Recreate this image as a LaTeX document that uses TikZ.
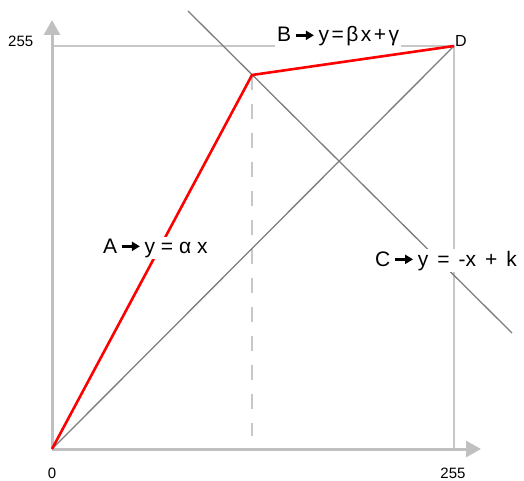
\documentclass[tikz,border=0pt]{standalone}
\usepackage{fontspec}
\setmainfont{Liberation Sans}
\usetikzlibrary{arrows.meta, positioning}
\definecolor{axisgray}{RGB}{192,192,192}
\definecolor{guidegray}{RGB}{200,200,200}
\definecolor{linegray}{RGB}{125,125,125}
\definecolor{mapred}{RGB}{255,0,0}
\newcommand{\maparrow}{\,\tikz[baseline=-0.6ex]\draw[black, line width=2.4pt, -{Triangle[length=8pt, width=9pt]}] (0pt,0pt) -- (18pt,0pt);\,}

\begin{document}
\begin{tikzpicture}[x=1pt, y=-1pt, font=\fontsize{21}{24}\selectfont,
    axis/.style={axisgray, line width=3pt, -{Triangle[length=15pt, width=16pt]}},
    guide/.style={guidegray, line width=1.2pt},
    mapline/.style={linegray, line width=1.3pt},
    maplabel/.style={fill=white, inner sep=2pt, anchor=base west},
    ticklabel/.style={font=\fontsize{15}{18}\selectfont, inner sep=0pt, anchor=base}]
  \useasboundingbox (0,0) rectangle (524,481);

  % Points
  \coordinate (O) at (52,449);
  \coordinate (D) at (454,46);
  \coordinate (P) at (252,75);
  \coordinate (Xend) at (481,449);
  \coordinate (Yend) at (52,20);
  \coordinate (Ytop) at (52,46);
  \coordinate (Xtop) at (454,449);
  \coordinate (Pfoot) at (252,436);
  \coordinate (Cstart) at (188,11);
  \coordinate (Cend) at (512,333);

  % Guides and axes
  \draw[guide] (Ytop) -- (D) -- (Xtop);
  \draw[guide, dash pattern=on 15pt off 14pt] (P) -- (Pfoot);
  \draw[axis] (O) -- (Xend);
  \draw[axis] (O) -- (Yend);

  % Lines
  \draw[mapline] (O) -- (D);
  \draw[mapline] (Cstart) -- (Cend);
  \draw[mapred, line width=2.6pt, line join=round] (O) -- (P) -- (D);

  % Labels
  \node[maplabel] (labB) at (275,42) {\spaceskip=2.5pt B\maparrow y = β x + γ};
  \node[maplabel] (labA) at (101,253) {A\maparrow y = α x};
  \node[maplabel] (labC) at (373,266) {\spaceskip=9pt C\maparrow y = -x + k};

  \node[ticklabel, anchor=base west] (ymax) at (8,47) {255};
  \node[ticklabel] (zero) at (52,478) {0};
  \node[ticklabel] (xmax) at (453,478) {255};
  \node[ticklabel, anchor=base west, font=\fontsize{16}{18}\selectfont] (labD) at (455,47) {D};
\end{tikzpicture}
\end{document}
